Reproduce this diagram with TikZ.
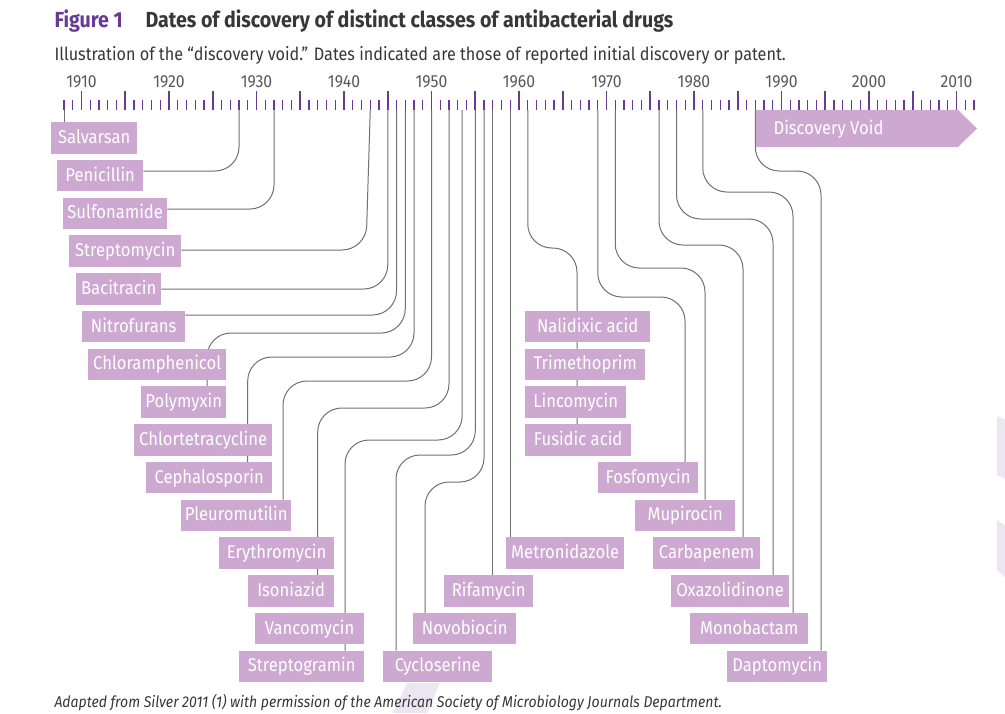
\documentclass[tikz,border=0pt]{standalone}
\usepackage{fontspec}
\newfontfamily\dinlike{Fira Sans}[FakeStretch=0.9]
\setmainfont{Fira Sans}[FakeStretch=0.9]

\definecolor{drugbox}{RGB}{205,169,209}
\definecolor{tickpurple}{RGB}{104,58,148}
\definecolor{connline}{RGB}{112,112,112}
\definecolor{yeargray}{RGB}{88,88,88}
\definecolor{titlegray}{RGB}{55,55,55}
\definecolor{ghost}{RGB}{236,230,242}

\pgfdeclarelayer{behind}
\pgfsetlayers{behind,main}

% x position of a year on the time axis
\newcommand{\yx}[1]{81.5+8.75*(#1-1910)}

\tikzset{
  drug/.style={fill=drugbox, text=white, font=\dinlike\fontsize{18.5}{19}\selectfont,
    minimum height=31.5pt, inner sep=0pt, text height=13pt, text depth=2pt,
    anchor=north west},
  conn/.style={draw=connline, line width=1pt, rounded corners=24pt},
}

\begin{document}
\begin{tikzpicture}[x=1pt,y=-1pt]
\useasboundingbox (0,0) rectangle (1005,713);

\node[anchor=base west, text=tickpurple, font=\fontsize{21.8}{22}\bfseries] (figno) at (51,27) {Figure 1};
\node[anchor=base west, text=titlegray, font=\fontsize{21.8}{22}\bfseries] (title) at (142,27)
 {Dates of discovery of distinct classes of antibacterial drugs};
\node[anchor=base west, text=titlegray, font=\fontsize{18}{18}\selectfont] (subtitle) at (51,60)
 {Illustration of the “discovery void.” Dates indicated are those of reported initial discovery or patent.};

% time axis
\foreach \y in {1908,...,2012}
  \draw[tickpurple, line width=1.1pt] ({\yx{\y}},100) -- ({\yx{\y}},109.5);
\foreach \y in {1910,1915,...,2010}
  \draw[tickpurple, line width=1.8pt] ({\yx{\y}},91) -- ({\yx{\y}},109.5);
\foreach \y in {1910,1920,...,2010}
  \node[anchor=base, text=yeargray, font=\fontsize{17.5}{18}\selectfont] at ({\yx{\y}},87) {\y};

\foreach \y in {1908,1928,1932,1943,1945,1946,1947,1948,1950,1952,1955,1956,1957,1959,
  1961,1969,1971,1976,1978,1981,1987}
  \coordinate (y\y) at ({\yx{\y}},110);
\coordinate (y1953) at ({\yx{1953.5}},110);

% discovery void
\fill[drugbox] (755.8,110) -- (958,110) -- (977,128.5) -- (958,147) -- (755.8,147) -- cycle;
\node[anchor=base west, text=white, font=\dinlike\fontsize{18.5}{19}\selectfont] (void) at (770,134) {Discovery Void};

% drug classes
\node[drug, minimum width=86pt] (salv) at (51,122) {Salvarsan};
\node[drug, minimum width=86pt] (peni) at (57,159.75) {Penicillin};
\node[drug, minimum width=104pt] (sulf) at (63,197.5) {Sulfonamide};
\node[drug, minimum width=112pt] (strep) at (69,235.25) {Streptomycin};
\node[drug, minimum width=85pt] (baci) at (76,273) {Bacitracin};
\node[drug, minimum width=103pt] (nitro) at (82,310.75) {Nitrofurans};
\node[drug, minimum width=138pt] (chloram) at (88,348.5) {Chloramphenicol};
\node[drug, minimum width=85pt] (poly) at (141,386.25) {Polymyxin};
\node[drug, minimum width=138pt] (chlort) at (134,424) {Chlortetracycline};
\node[drug, minimum width=126pt] (ceph) at (146,461.75) {Cephalosporin};
\node[drug, minimum width=110pt] (pleuro) at (181,499.5) {Pleuromutilin};
\node[drug, minimum width=115pt] (ery) at (219,537.25) {Erythromycin};
\node[drug, minimum width=86pt] (iso) at (248,575) {Isoniazid};
\node[drug, minimum width=109pt] (vanco) at (255,612.75) {Vancomycin};
\node[drug, minimum width=125pt] (sgram) at (239,650.5) {Streptogramin};
\node[drug, minimum width=109pt] (cyclo) at (383,650.5) {Cycloserine};
\node[drug, minimum width=103pt] (novo) at (413,612.75) {Novobiocin};
\node[drug, minimum width=89pt] (rifa) at (444,575) {Rifamycin};
\node[drug, minimum width=118pt] (metro) at (506,537.25) {Metronidazole};
\node[drug, minimum width=125pt] (nali) at (525,310.75) {Nalidixic acid};
\node[drug, minimum width=120pt] (trim) at (525,348.5) {Trimethoprim};
\node[drug, minimum width=101pt] (linco) at (525,386.25) {Lincomycin};
\node[drug, minimum width=106pt] (fusi) at (525,424) {Fusidic acid};
\node[drug, minimum width=100pt] (fosfo) at (598,461.75) {Fosfomycin};
\node[drug, minimum width=100pt] (mupi) at (635,499.5) {Mupirocin};
\node[drug, minimum width=107pt] (carba) at (653,537.25) {Carbapenem};
\node[drug, minimum width=118pt] (oxaz) at (671,575) {Oxazolidinone};
\node[drug, minimum width=118pt] (mono) at (690,612.75) {Monobactam};
\node[drug, minimum width=100pt] (dapto) at (727,650.5) {Daptomycin};

\node[anchor=base west, text=titlegray, font=\fontsize{15.6}{16}\itshape] (source) at (51,707)
 {Adapted from Silver 2011 (1) with permission of the American Society of Microbiology Journals Department.};

\begin{pgfonlayer}{behind}
\fill[ghost] (407,683) -- (440,683) -- (427,713) -- (393,713) -- cycle;
\fill[ghost] (997,416) -- (1005,419.5) -- (1005,479) -- (997,475) -- cycle;
\fill[ghost] (997,520) -- (1005,525) -- (1005,577) -- (997,570) -- cycle;

\draw[conn] (y1908) -- (salv.north -| y1908);
\draw[conn] (y1928) |- (peni.east |- 0,171);
\draw[conn] (y1932) |- (sulf.east |- 0,209);
\draw[conn] (y1943) -- (366,250) -- (strep.east |- 0,250);
\draw[conn] (y1945) |- (baci.east |- 0,289);
\draw[conn] (y1946) |- (nitro.east |- 0,315);
\draw[conn] (y1947) -- (y1947 |- 0,333) -| (poly.north -| 207,0);
\draw[conn] (y1948) -- (y1948 |- 0,357) -| (ceph.north -| 247.7,0);
\draw[conn] (y1950) -- (y1950 |- 0,381) -| (pleuro.north -| 283,0);
\draw[conn] (y1952) -- (y1952 |- 0,408) -| (iso.north -| 317.7,0);
\draw[conn] (y1953) -- (y1953 |- 0,440) -| (sgram.north -| 345,0);
\draw[conn] (y1955) -- (y1955 |- 0,455) -| (cyclo.north -| 396,0);
\draw[conn] (y1956) -- (y1956 |- 0,482) -| (novo.north -| 425,0);
\draw[conn] (y1957) -- (rifa.north -| y1957);
\draw[conn] (y1959) -- (metro.north -| y1959);
\draw[conn] (y1961) -- (y1961 |- 0,248) -| (fusi.north -| 577,0);
\draw[conn] (y1969) -- (y1969 |- 0,297) -| (fosfo.north -| 685,0);
\draw[conn] (y1971) -- (y1971 |- 0,268) -| (mupi.north -| 705,0);
\draw[conn] (y1976) -- (y1976 |- 0,245) -| (carba.north -| 743,0);
\draw[conn] (y1978) -- (y1978 |- 0,219) -| (oxaz.north -| 773,0);
\draw[conn] (y1981) -- (y1981 |- 0,192) -| (mono.north -| 793,0);
\draw[conn] (y1987) -- (y1987 |- 0,171) -| (dapto.north -| 821,0);
\end{pgfonlayer}
\end{tikzpicture}
\end{document}
